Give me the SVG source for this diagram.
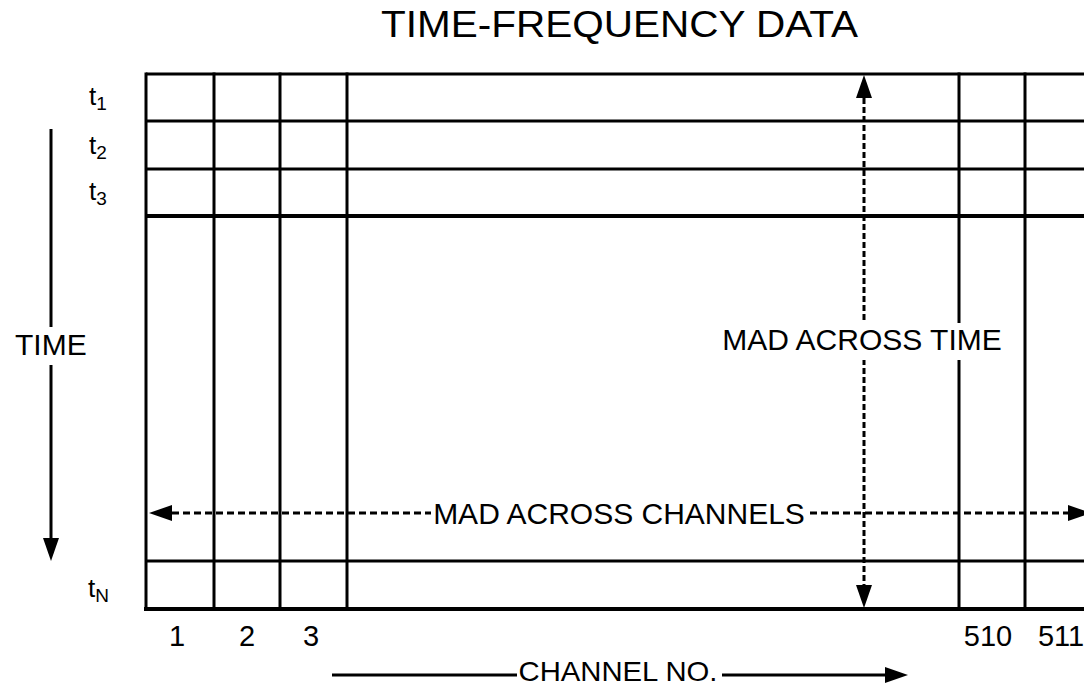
<svg xmlns="http://www.w3.org/2000/svg" width="1084" height="687" viewBox="0 0 1084 687">
<style>
text{font-family:"Liberation Sans",Arial,sans-serif;fill:#000}
.lbl{font-size:30px}
.num{font-size:29px;text-anchor:middle}
.t{font-size:26px}
.sub{font-size:19px}
.g{stroke:#000;stroke-width:3;fill:none}
.gt{stroke:#000;stroke-width:4;fill:none}
.solid{stroke:#000;stroke-width:3;fill:none}
.dash{stroke:#000;stroke-width:3;fill:none;stroke-dasharray:7 4}
.vdash{stroke:#000;stroke-width:3;fill:none;stroke-dasharray:6 3}
.bg{fill:#fff}
</style>
<defs>
<marker id="ah" markerUnits="userSpaceOnUse" viewBox="0 0 23 16" refX="0" refY="8" markerWidth="23" markerHeight="16" orient="auto-start-reverse">
<path d="M0,0 L23,8 L0,16 z" fill="#000"/>
</marker>
</defs>
<rect width="1084" height="687" fill="#fff"/>
<g id="title"><text x="381" y="37" font-size="36" textLength="477" lengthAdjust="spacingAndGlyphs">TIME-FREQUENCY DATA</text></g>
<g id="grid">
<line class="g" x1="146" y1="74" x2="1084" y2="74"/>
<line class="g" x1="146" y1="121" x2="1084" y2="121"/>
<line class="g" x1="146" y1="169" x2="1084" y2="169"/>
<line class="gt" x1="146" y1="216" x2="1084" y2="216"/>
<line class="g" x1="146" y1="561" x2="1084" y2="561"/>
<line class="gt" x1="144" y1="609" x2="1084" y2="609"/>
<line class="g" x1="146" y1="72.5" x2="146" y2="611"/>
<line class="g" x1="214" y1="72.5" x2="214" y2="611"/>
<line class="g" x1="280" y1="72.5" x2="280" y2="611"/>
<line class="g" x1="347" y1="72.5" x2="347" y2="611"/>
<line class="g" x1="959" y1="72.5" x2="959" y2="611"/>
<line class="g" x1="1025" y1="72.5" x2="1025" y2="611"/>
</g>
<g id="connectors">
<line id="time-arrow" class="solid" x1="51" y1="129" x2="51" y2="538" marker-end="url(#ah)"/>
<line id="mad-channels" class="dash" x1="172" y1="513" x2="1068" y2="513" marker-start="url(#ah)" marker-end="url(#ah)"/>
<line id="mad-time" class="vdash" x1="864" y1="98" x2="864" y2="585" marker-start="url(#ah)" marker-end="url(#ah)"/>
<line id="channel-arrow" class="solid" x1="332" y1="675" x2="885" y2="675" marker-end="url(#ah)"/>
</g>
<g id="row-labels">
<text class="t" x="89" y="105">t<tspan class="sub" dy="5">1</tspan></text>
<text class="t" x="89" y="154">t<tspan class="sub" dy="5">2</tspan></text>
<text class="t" x="89" y="200">t<tspan class="sub" dy="5">3</tspan></text>
<text class="t" x="88" y="597">t<tspan class="sub" dy="5">N</tspan></text>
</g>
<g id="col-labels">
<text class="num" x="177" y="646">1</text>
<text class="num" x="247" y="646">2</text>
<text class="num" x="311" y="646">3</text>
<text class="num" x="988" y="646">510</text>
<text class="num" x="1061" y="646">511</text>
</g>
<g id="label-time">
<rect class="bg" x="12" y="327" width="78" height="38"/>
<text class="lbl" x="15" y="355">TIME</text>
</g>
<g id="label-mad-time">
<rect class="bg" x="720" y="323" width="285" height="37"/>
<text class="lbl" x="862" y="350" text-anchor="middle">MAD ACROSS TIME</text>
</g>
<g id="label-mad-channels">
<rect class="bg" x="431" y="498" width="377" height="30"/>
<text class="lbl" x="619" y="524" text-anchor="middle">MAD ACROSS CHANNELS</text>
</g>
<g id="label-channel-no">
<rect class="bg" x="517" y="660" width="205" height="27"/>
<text x="618" y="681" font-size="28" text-anchor="middle" textLength="199" lengthAdjust="spacingAndGlyphs">CHANNEL NO.</text>
</g>
</svg>
